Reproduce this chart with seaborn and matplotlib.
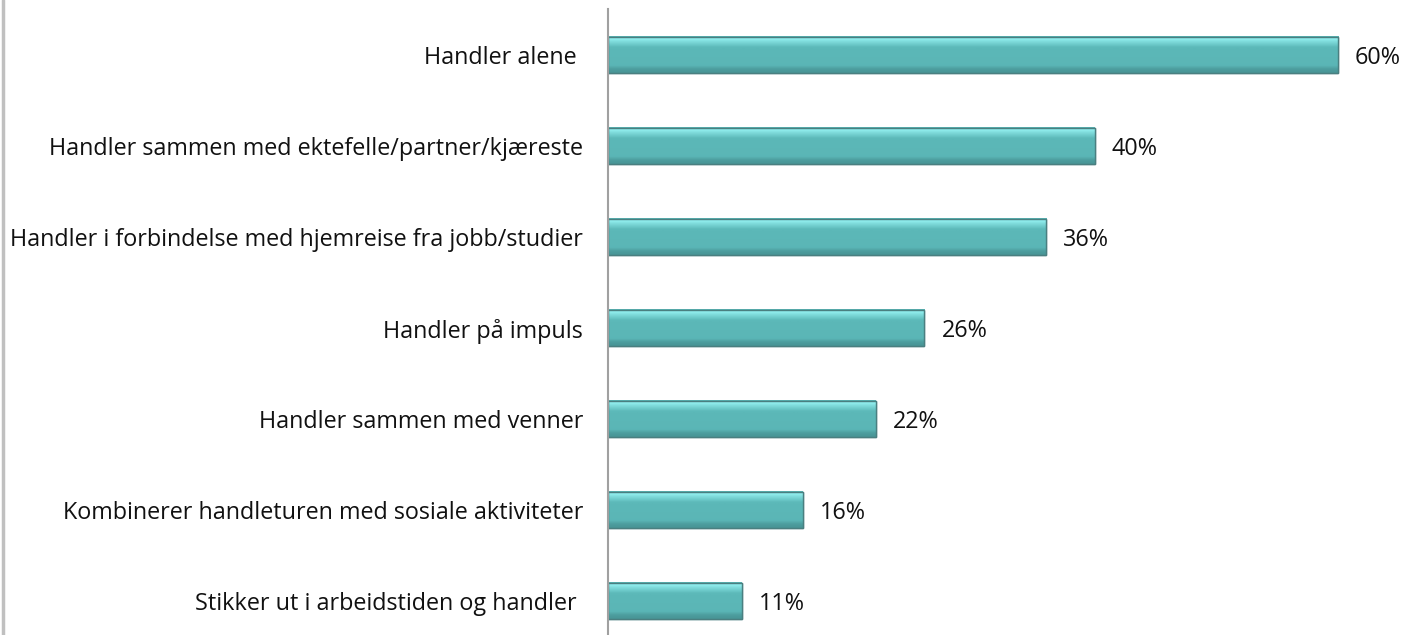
import matplotlib
matplotlib.use("Agg")
import matplotlib.pyplot as plt
import matplotlib.lines as mlines
import seaborn as sns
import pandas as pd
import numpy as np

categories = [
    "Handler alene ",
    "Handler sammen med ektefelle/partner/kjæreste",
    "Handler i forbindelse med hjemreise fra jobb/studier",
    "Handler på impuls",
    "Handler sammen med venner",
    "Kombinerer handleturen med sosiale aktiviteter",
    "Stikker ut i arbeidstiden og handler ",
]
values = [0.60, 0.40, 0.36, 0.26, 0.22, 0.16, 0.11]

df = pd.DataFrame({"cat": categories, "val": values})

sns.set_theme(style="white")
plt.rcParams['font.family'] = ['Open Sans', 'DejaVu Sans']

fig = plt.figure(figsize=(14.04, 6.35), dpi=100)
ax = fig.add_axes([608/1404, 1 - 646.5/635, 796/1404, 637/635])

sns.barplot(data=df, x="val", y="cat", ax=ax, color="#5cb8b8",
            width=0.40, edgecolor="#4a7f80", linewidth=1.0, saturation=1)

# 3D-like bevel gradient on each bar
grad = np.linspace(0, 1, 36)
prof = np.interp(grad, [0.0, 0.06, 0.14, 0.30, 0.80, 0.90, 1.0],
                 [0.55, 1.0, 0.85, 0.6, 0.58, 0.35, 0.25]).reshape(-1, 1)
cmap = matplotlib.colors.LinearSegmentedColormap.from_list(
    "b", [(0.0, "#3d7f80"), (0.35, "#4d9e9f"), (0.6, "#5cb8b8"), (1.0, "#93f0f0")])
for p in list(ax.patches):
    x0, y0 = p.get_x(), p.get_y()
    w, h = p.get_width(), p.get_height()
    ax.imshow(prof, extent=(x0, x0 + w, y0 + h, y0), aspect="auto",
              cmap=cmap, vmin=0, vmax=1, zorder=p.get_zorder() + 0.1,
              interpolation="bilinear")
    ax.add_patch(plt.Rectangle((x0, y0), w, h, fill=False,
                               edgecolor="#4a7f80", linewidth=1.0,
                               zorder=p.get_zorder() + 0.2))

ax.set_xlim(0, 796 / 1216.7)
ax.set_ylim(6.5, -0.5)
ax.set_xlabel("")
ax.set_ylabel("")
ax.set_xticks([])
ax.tick_params(axis="y", length=0, pad=18, labelsize=16.8, labelcolor="#111111")
for s in ["top", "right", "bottom"]:
    ax.spines[s].set_visible(False)
ax.spines["left"].set_color("#a0a0a0")
ax.spines["left"].set_linewidth(1.5)

for i, v in enumerate(values):
    ax.text(v + 0.014, i + 0.03, f"{round(v*100)}%", va="center", ha="left",
            fontsize=16.8, color="#111111")

fig.add_artist(mlines.Line2D([3/1404, 3/1404], [0, 1], color="#c0c0c0",
                             linewidth=2.5, transform=fig.transFigure))

fig.savefig("out.png", dpi=100, facecolor="white")
